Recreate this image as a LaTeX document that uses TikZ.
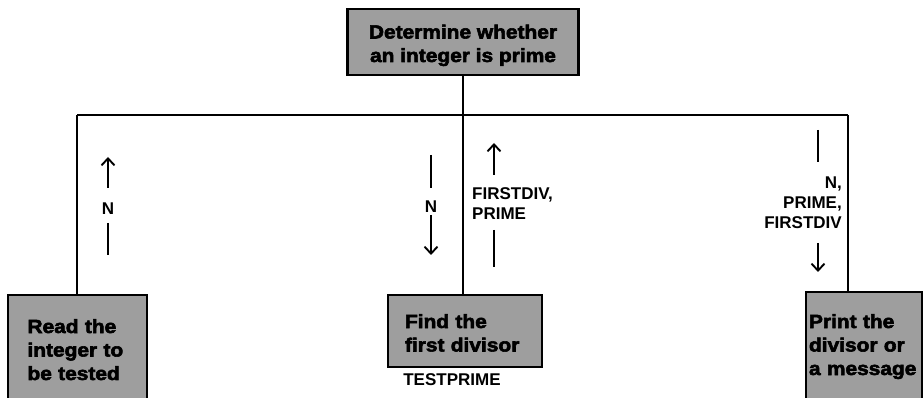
\documentclass[tikz,border=0pt]{standalone}
\usepackage{fontspec}
\setmainfont{Liberation Sans}
\newfontfamily\boxfont[FakeStretch=1.1,BoldFeatures={FakeBold=3}]{Liberation Sans}
\usetikzlibrary{arrows.meta,positioning,calc}
\hyphenpenalty=10000

\begin{document}
\begin{tikzpicture}[
  x=1pt, y=-1pt,
  box/.style={draw, line width=2.4pt, fill=black!38, inner sep=0pt, text height=0pt,
    font=\boxfont\bfseries\fontsize{19}{23.5}\selectfont},
  lbl/.style={inner sep=0pt, font=\bfseries\fontsize{17}{20}\selectfont},
  link/.style={line width=2.2pt},
  flow/.style={line width=1.9pt, -{Straight Barb[length=7pt,width=13pt]}},
  node distance=7pt
]
\useasboundingbox (0,0) rectangle (924,398);
\node[box, minimum width=231pt, minimum height=66pt, text height=40pt, text depth=0pt, align=center] (det) at (463,42)
  {Determine whether\\an integer is prime};
\node[box, minimum width=139pt, minimum height=106pt, text depth=30pt, text width=100pt, align=left] (read) at (77.5,348)
  {Read the\\integer to\\be tested};
\node[box, minimum width=154pt, minimum height=72pt, text depth=6pt, text width=120pt, align=left] (find) at (465,331)
  {Find the\\first divisor};
\node[box, minimum width=116pt, minimum height=108pt, text depth=36pt, text width=110pt, align=left] (print) at (864,346)
  {Print the\\divisor or\\a message};
\node[lbl, below=5pt of find, xshift=-13pt] (tp) {TESTPRIME};
\coordinate (hl) at (77,115);
\coordinate (hr) at (848,115);
\draw[link] (det.south) -- (det.south |- hl);
\draw[link] (hl) -- (hr);
\draw[link] (hl) -- (hl |- read.north);
\draw[link] (det.south |- hl) -- (det.south |- find.north);
\draw[link] (hr) -- (hr |- print.north);
\node[lbl] (nread) at (108,209) {N};
\draw[flow] ($(nread)+(0,-21)$) -- ($(nread)+(0,-52)$);
\draw[link] ($(nread)+(0,14)$) -- ($(nread)+(0,46)$);
\node[lbl] (nfind) at (431,207) {N};
\draw[link] ($(nfind)+(0,-52)$) -- ($(nfind)+(0,-19)$);
\draw[flow] ($(nfind)+(0,8)$) -- ($(nfind)+(0,48)$);
\node[lbl, anchor=west, align=left] (back) at (472,204) {FIRSTDIV,\\PRIME};
\draw[flow] ($(back.west)+(22,-29)$) -- ($(back.west)+(22,-61)$);
\draw[link] ($(back.west)+(22,26)$) -- ($(back.west)+(22,63)$);
\node[lbl, anchor=east, align=right] (out) at (842,203) {N,\\PRIME,\\FIRSTDIV};
\draw[link] ($(out.east)+(-24,-73)$) -- ($(out.east)+(-24,-41)$);
\draw[flow] ($(out.east)+(-24,40)$) -- ($(out.east)+(-24,69)$);
\end{tikzpicture}
\end{document}
